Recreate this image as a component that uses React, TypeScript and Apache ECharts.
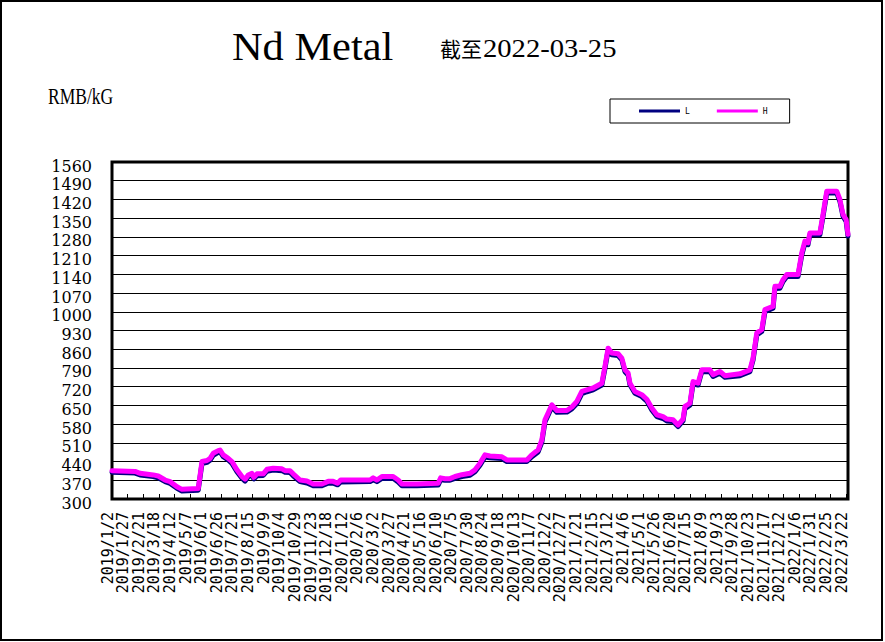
import React, { useEffect, useRef } from 'react';
import * as echarts from 'echarts';

// ---- data ----
const titleText = 'Nd Metal';
const subtitlePrefix = '截至';
const subtitleDate = '2022-03-25';
const unitText = 'RMB/kG';
const seriesNames = ['L', 'H'];

const axisStart = [2019, 1, 2];
const axisEnd = [2022, 3, 25];
const labelEvery = 25; // days between x tick labels

const yMin = 300;
const yMax = 1560;
const yStep = 70;

const dates = [
  '2019/1/2', '2019/2/8', '2019/2/16', '2019/3/9', '2019/3/17', '2019/3/28', '2019/4/5', '2019/4/16', '2019/4/24', '2019/5/2',
  '2019/5/20', '2019/5/26', '2019/6/3', '2019/6/8', '2019/6/13', '2019/6/21', '2019/6/24', '2019/6/29', '2019/7/7', '2019/7/13',
  '2019/7/21', '2019/7/29', '2019/8/3', '2019/8/8', '2019/8/14', '2019/8/17', '2019/8/22', '2019/9/1', '2019/9/7', '2019/9/17',
  '2019/10/1', '2019/10/6', '2019/10/14', '2019/10/19', '2019/10/30', '2019/11/10', '2019/11/20', '2019/12/4', '2019/12/14', '2019/12/22',
  '2019/12/29', '2020/1/3', '2020/2/19', '2020/2/24', '2020/3/1', '2020/3/9', '2020/3/27', '2020/4/4', '2020/4/10', '2020/5/4',
  '2020/6/7', '2020/6/11', '2020/6/18', '2020/6/26', '2020/7/4', '2020/7/15', '2020/7/28', '2020/8/5', '2020/8/13', '2020/8/21',
  '2020/8/29', '2020/9/17', '2020/9/25', '2020/10/27', '2020/11/4', '2020/11/14', '2020/11/20', '2020/11/25', '2020/11/30', '2020/12/6',
  '2020/12/14', '2020/12/30', '2021/1/7', '2021/1/15', '2021/1/23', '2021/1/31', '2021/2/10', '2021/2/24', '2021/3/1', '2021/3/6',
  '2021/3/12', '2021/3/22', '2021/3/28', '2021/4/2', '2021/4/7', '2021/4/10', '2021/4/18', '2021/4/29', '2021/5/7', '2021/5/15',
  '2021/5/23', '2021/6/2', '2021/6/8', '2021/6/18', '2021/6/26', '2021/7/4', '2021/7/7', '2021/7/15', '2021/7/20', '2021/7/28',
  '2021/8/3', '2021/8/16', '2021/8/21', '2021/9/1', '2021/9/9', '2021/10/3', '2021/10/19', '2021/10/24', '2021/10/30', '2021/11/7',
  '2021/11/12', '2021/11/25', '2021/11/28', '2021/12/6', '2021/12/11', '2021/12/17', '2022/1/4', '2022/1/10', '2022/1/15', '2022/1/20',
  '2022/1/23', '2022/2/8', '2022/2/13', '2022/2/19', '2022/3/7', '2022/3/12', '2022/3/17', '2022/3/22', '2022/3/25',
];

const hValues = [
  406, 403, 396, 390, 386, 371, 365, 346, 336, 337,
  339, 440, 444, 452, 471, 481, 483, 465, 452, 440,
  409, 384, 374, 390, 396, 381, 394, 394, 411, 415,
  413, 406, 406, 394, 371, 367, 356, 356, 366, 366,
  359, 371, 371, 379, 371, 384, 384, 371, 356, 356,
  359, 379, 376, 376, 384, 391, 396, 409, 434, 465,
  461, 458, 446, 446, 465, 484, 521, 596, 621, 652,
  631, 631, 644, 665, 702, 708, 715, 733, 796, 864,
  846, 843, 827, 783, 771, 733, 702, 690, 673, 640,
  615, 608, 599, 596, 577, 599, 646, 658, 739, 733,
  783, 783, 765, 777, 761, 768, 783, 827, 921, 933,
  1008, 1020, 1095, 1095, 1120, 1139, 1139, 1220, 1264, 1258,
  1295, 1295, 1364, 1451, 1451, 1420, 1364, 1345, 1290,
];

const lValues = [
  400, 397, 390, 384, 379, 365, 358, 340, 330, 331,
  333, 432, 437, 445, 463, 474, 476, 458, 446, 433,
  402, 378, 367, 383, 389, 375, 387, 388, 404, 408,
  406, 400, 399, 387, 365, 360, 350, 350, 359, 359,
  353, 364, 365, 372, 365, 377, 378, 364, 350, 350,
  352, 372, 370, 370, 377, 384, 389, 402, 426, 457,
  454, 451, 440, 440, 458, 476, 513, 588, 613, 645,
  624, 625, 637, 657, 694, 701, 708, 726, 788, 856,
  839, 836, 820, 776, 764, 727, 695, 683, 666, 633,
  608, 601, 592, 590, 571, 592, 638, 651, 731, 726,
  776, 776, 758, 770, 755, 761, 776, 819, 913, 926,
  1000, 1013, 1087, 1088, 1113, 1132, 1132, 1212, 1256, 1251,
  1288, 1288, 1356, 1444, 1444, 1413, 1357, 1338, 1283,
];

function buildCategories(): string[] {
  const out: string[] = [];
  const t0 = Date.UTC(axisStart[0], axisStart[1] - 1, axisStart[2]);
  const t1 = Date.UTC(axisEnd[0], axisEnd[1] - 1, axisEnd[2]);
  for (let t = t0; t <= t1; t += 86400000) {
    const d = new Date(t);
    out.push(`${d.getUTCFullYear()}/${d.getUTCMonth() + 1}/${d.getUTCDate()}`);
  }
  return out;
}

export default function App() {
  const ref = useRef<HTMLDivElement>(null);

  useEffect(() => {
    if (!ref.current) return;
    const chart = echarts.init(ref.current, null, { renderer: 'svg' });
    const categories = buildCategories();
    const index = new Map<string, number>();
    categories.forEach((c, i) => index.set(c, i));
    const toData = (vals: number[]) => dates.map((d, i) => [index.get(d), vals[i]]);

    chart.setOption({
      animation: false,
      backgroundColor: '#ffffff',
      grid: {
        left: 112,
        top: 162,
        width: 736,
        height: 337,
        show: true,
        borderColor: '#000',
        borderWidth: 3,
        backgroundColor: 'transparent',
        containLabel: false,
      },
      legend: {
        data: seriesNames,
        left: 610,
        top: 99,
        orient: 'horizontal',
        icon: 'rect',
        itemWidth: 41,
        itemHeight: 3,
        itemGap: 27,
        padding: [8, 22, 8, 29],
        borderColor: '#000',
        borderWidth: 1,
        selectedMode: false,
        textStyle: { fontFamily: 'DejaVu Sans Mono', fontSize: 8, color: '#000' },
      },
      xAxis: {
        type: 'category',
        data: categories,
        boundaryGap: false,
        axisLine: { show: false },
        axisTick: {
          show: true,
          inside: true,
          length: 5,
          interval: labelEvery - 1,
          lineStyle: { color: '#000', width: 1 },
        },
        axisLabel: {
          interval: labelEvery - 1,
          showMinLabel: true,
          rotate: 90,
          margin: 13,
          fontFamily: 'DejaVu Sans Mono',
          fontSize: 15,
          lineHeight: 9,
          verticalAlign: 'bottom',
          color: '#000',
        },
        splitLine: { show: false },
      },
      yAxis: {
        type: 'value',
        min: yMin,
        max: yMax,
        interval: yStep,
        axisLine: { show: false },
        axisTick: { show: false },
        axisLabel: {
          margin: 20,
          showMinLabel: true,
          showMaxLabel: true,
          fontFamily: 'DejaVu Serif',
          fontSize: 16,
          lineHeight: 8,
          verticalAlign: 'top',
          color: '#000',
          formatter: (v: number) => String(v),
        },
        splitLine: { show: true, lineStyle: { color: '#000', width: 1 } },
      },
      series: [
        {
          name: seriesNames[0],
          type: 'line',
          data: toData(lValues),
          color: '#000080',
          showSymbol: false,
          symbol: 'none',
          lineStyle: { color: '#000080', width: 5, cap: 'round', join: 'round' },
          z: 2,
        },
        {
          name: seriesNames[1],
          type: 'line',
          data: toData(hValues),
          color: '#FF00FF',
          showSymbol: false,
          symbol: 'none',
          lineStyle: { color: '#FF00FF', width: 5, cap: 'round', join: 'round' },
          z: 3,
        },
      ],
      graphic: [
        {
          type: 'rect',
          silent: true,
          shape: { x: 1, y: 1, width: 881, height: 639 },
          style: { fill: 'none', stroke: '#000', lineWidth: 2 },
        },
        {
          type: 'text',
          x: 232,
          y: 46,
          scaleX: 1.06,
          style: {
            text: titleText,
            fontFamily: 'Liberation Serif',
            fontSize: 40,
            fill: '#000',
            align: 'left',
            verticalAlign: 'middle',
          },
        },
        {
          type: 'text',
          x: 440,
          y: 48,
          style: {
            text: subtitlePrefix,
            fontFamily: 'Noto Sans CJK SC',
            fontSize: 21,
            fill: '#000',
            align: 'left',
            verticalAlign: 'middle',
          },
        },
        {
          type: 'text',
          x: 483,
          y: 48,
          scaleX: 1.1,
          style: {
            text: subtitleDate,
            fontFamily: 'Liberation Serif',
            fontSize: 26,
            fill: '#000',
            align: 'left',
            verticalAlign: 'middle',
          },
        },
        {
          type: 'text',
          x: 48,
          y: 96,
          scaleX: 0.73,
          style: {
            text: unitText,
            fontFamily: 'Liberation Serif',
            fontSize: 24,
            fill: '#000',
            align: 'left',
            verticalAlign: 'middle',
          },
        },
      ],
    });

    return () => chart.dispose();
  }, []);

  return (
    <div
      ref={ref}
      style={{ position: 'absolute', left: 0, top: 0, width: 885, height: 642 }}
    />
  );
}
